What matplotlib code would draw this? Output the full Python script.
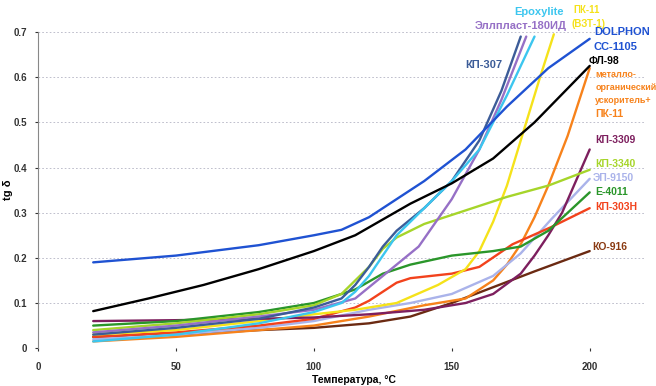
import matplotlib
matplotlib.use("Agg")
import matplotlib.pyplot as plt

plt.rcParams['font.family'] = ['Liberation Sans', 'DejaVu Sans']

# values: temperature (°C) -> tg delta
dolphon_t = [20, 50, 80, 100, 110, 120, 130, 140, 155, 170, 185, 200]
dolphon_v = [0.19, 0.205, 0.228, 0.25, 0.262, 0.29, 0.33, 0.37, 0.44, 0.535, 0.62, 0.685]

fl98_t = [20, 40, 60, 80, 100, 115, 125, 135, 150, 165, 180, 200]
fl98_v = [0.082, 0.11, 0.14, 0.175, 0.215, 0.25, 0.285, 0.32, 0.365, 0.42, 0.5, 0.625]

epox_t = [20, 50, 80, 100, 110, 115, 120, 125, 130, 140, 150, 160, 170, 180]
epox_v = [0.015, 0.03, 0.055, 0.08, 0.10, 0.125, 0.16, 0.205, 0.25, 0.31, 0.37, 0.44, 0.56, 0.69]

kp307_t = [20, 50, 80, 100, 110, 115, 120, 125, 130, 140, 150, 160, 168, 175]
kp307_v = [0.03, 0.045, 0.065, 0.09, 0.11, 0.14, 0.18, 0.225, 0.26, 0.31, 0.37, 0.46, 0.57, 0.69]

ellp_t = [20, 50, 80, 100, 115, 125, 138, 150, 160, 168, 177]
ellp_v = [0.035, 0.05, 0.07, 0.085, 0.11, 0.16, 0.225, 0.33, 0.44, 0.55, 0.69]

kp3340_t = [20, 50, 80, 100, 110, 115, 120, 125, 130, 140, 155, 170, 185, 200]
kp3340_v = [0.04, 0.055, 0.075, 0.095, 0.12, 0.15, 0.18, 0.22, 0.245, 0.275, 0.305, 0.335, 0.36, 0.395]

e4011_t = [20, 50, 80, 100, 115, 125, 135, 150, 165, 175, 185, 200]
e4011_v = [0.05, 0.06, 0.08, 0.10, 0.13, 0.165, 0.185, 0.205, 0.215, 0.225, 0.26, 0.345]

kp303_t = [20, 50, 80, 100, 115, 120, 125, 130, 135, 150, 160, 172, 186, 200]
kp303_v = [0.025, 0.035, 0.05, 0.065, 0.09, 0.105, 0.125, 0.145, 0.155, 0.165, 0.18, 0.23, 0.268, 0.31]

ep9150_t = [20, 50, 80, 100, 120, 135, 150, 165, 175, 186, 200]
ep9150_v = [0.02, 0.03, 0.045, 0.06, 0.085, 0.10, 0.12, 0.16, 0.21, 0.285, 0.375]

kp3309_t = [20, 50, 80, 100, 120, 140, 155, 165, 175, 180, 185, 190, 195, 200]
kp3309_v = [0.06, 0.062, 0.065, 0.068, 0.075, 0.085, 0.10, 0.12, 0.165, 0.205, 0.25, 0.3, 0.37, 0.44]

ko916_t = [20, 50, 80, 100, 120, 135, 150, 165, 180, 200]
ko916_v = [0.025, 0.03, 0.04, 0.045, 0.055, 0.07, 0.10, 0.135, 0.17, 0.215]

metorg_t = [20, 50, 80, 100, 120, 140, 155, 165, 170, 175, 180, 185, 192, 200]
metorg_v = [0.015, 0.025, 0.04, 0.05, 0.07, 0.095, 0.11, 0.15, 0.185, 0.23, 0.29, 0.36, 0.47, 0.62]

pk11_t = [20, 50, 80, 100, 115, 130, 145, 155, 160, 165, 170, 175, 182, 187]
pk11_v = [0.03, 0.04, 0.06, 0.075, 0.085, 0.10, 0.14, 0.175, 0.215, 0.28, 0.36, 0.46, 0.60, 0.695]

series = [
    (ko916_t, ko916_v, '#6b2a12'),
    (metorg_t, metorg_v, '#f7821b'),
    (ep9150_t, ep9150_v, '#aab3ea'),
    (kp303_t, kp303_v, '#f2421c'),
    (pk11_t, pk11_v, '#f5e21a'),
    (kp3309_t, kp3309_v, '#7d1f5e'),
    (e4011_t, e4011_v, '#2a962a'),
    (kp3340_t, kp3340_v, '#a6d52a'),
    (ellp_t, ellp_v, '#9670c6'),
    (kp307_t, kp307_v, '#3c5c98'),
    (epox_t, epox_v, '#3cc6ef'),
    (fl98_t, fl98_v, '#000000'),
    (dolphon_t, dolphon_v, '#1f52d2'),
]

fig = plt.figure(figsize=(6.56, 3.86), dpi=100)
ax = fig.add_axes([0.058, 0.098, 0.925, 0.819])

for t, v, c in series:
    ax.plot(t, v, color=c, lw=1.7, solid_capstyle='round', solid_joinstyle='round')

ax.set_xlim(0, 220)
ax.set_ylim(0, 0.7)
ax.set_xticks([0, 50, 100, 150, 200])
ax.set_yticks([0, 0.1, 0.2, 0.3, 0.4, 0.5, 0.6, 0.7])
ax.set_yticklabels(['0', '0.1', '0.2', '0.3', '0.4', '0.5', '0.6', '0.7'])
ax.tick_params(labelsize=7, length=2, colors='#333333', pad=6)
ax.tick_params(axis='x', pad=8)
for lab in ax.get_xticklabels() + ax.get_yticklabels():
    lab.set_fontweight('bold')
ax.yaxis.grid(True, ls=(0, (2, 2.5)), color='#b4b4c4', lw=0.6)
for s in ['top', 'right', 'bottom']:
    ax.spines[s].set_visible(False)
ax.spines['left'].set_color('#888888')
ax.spines['left'].set_linewidth(0.8)

ax.set_ylabel('tg δ', fontsize=8, fontweight='bold')
ax.yaxis.set_label_coords(-0.042, 0.5)
ax.set_xlabel('Температура, °С', fontsize=7.5, fontweight='bold')
ax.xaxis.set_label_coords(0.52, -0.085)

def lab(x, y, s, c, ha='left', size=8):
    ax.text(x, y, s, color=c, fontsize=size, fontweight='bold', ha=ha,
            va='center', clip_on=False)

lab(181.5, 0.745, 'Epoxylite', '#3cc6ef', ha='center')
lab(175, 0.713, 'Эллпласт-180ИД', '#9670c6', ha='center')
lab(199, 0.748, 'ПК-11', '#f5e21a', ha='center', size=7)
lab(199.5, 0.717, '(ВЗТ-1)', '#f5e21a', ha='center', size=7)
lab(201.5, 0.70, 'DOLPHON', '#1f52d2')
lab(201.5, 0.666, 'CC-1105', '#1f52d2')
lab(199.5, 0.636, 'ФЛ-98', '#000000', size=7.5)
lab(202, 0.607, 'металло-', '#f7821b', size=6.5)
lab(202, 0.577, 'органический', '#f7821b', size=6.5)
lab(202, 0.548, 'ускоритель+', '#f7821b', size=6.5)
lab(202, 0.518, 'ПК-11', '#f7821b', size=7.5)
lab(161.5, 0.628, 'КП-307', '#3c5c98', ha='center')
lab(202, 0.46, 'КП-3309', '#7d1f5e', size=7.5)
lab(202, 0.407, 'КП-3340', '#a6d52a', size=7.5)
lab(201, 0.376, 'ЭП-9150', '#aab3ea', size=7.5)
lab(202, 0.345, 'E-4011', '#2a962a', size=7.5)
lab(202, 0.312, 'КП-303Н', '#f2421c', size=7.5)
lab(201, 0.223, 'КО-916', '#8a3a12', size=7.5)

fig.savefig('out.png', dpi=100)
